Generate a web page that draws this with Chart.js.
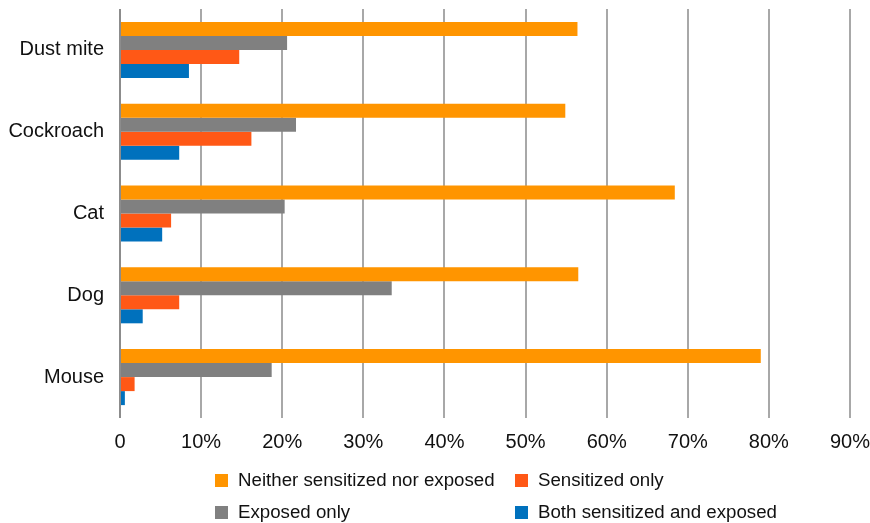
<!DOCTYPE html>
<html>
<head>
<meta charset="utf-8">
<script src="https://cdn.jsdelivr.net/npm/chart.js@4/dist/chart.umd.min.js"></script>
<style>
  body { margin: 0; background: #fff; font-family: "Liberation Sans", Arial, sans-serif; }
  #wrap { position: relative; width: 870px; height: 523px; }
  #chart { position: absolute; left: 0; top: 0; }
  .leg { position: absolute; font-size: 18.7px; color: #111; white-space: nowrap; line-height: 20px; }
  .leg span.box { position: absolute; width: 13px; height: 13px; left: 0; top: 4px; }
  .leg span.txt { position: absolute; left: 23px; top: 0; }
</style>
</head>
<body>
<div id="wrap">
  <canvas id="chart" width="870" height="471"></canvas>
  <div id="legend"></div>
</div>
<script>
const allergens = ['Dust mite', 'Cockroach', 'Cat', 'Dog', 'Mouse'];
const neither = [56.4, 54.9, 68.4, 56.5, 79.0];
const exposedOnly = [20.6, 21.7, 20.3, 33.5, 18.7];
const sensitizedOnly = [14.7, 16.2, 6.3, 7.3, 1.8];
const both = [8.5, 7.3, 5.2, 2.8, 0.6];
const xTicks = [0, 10, 20, 30, 40, 50, 60, 70, 80, 90];

const datasets = [
    { label: 'Neither sensitized nor exposed', data: neither, backgroundColor: '#ff9500' },
    { label: 'Exposed only', data: exposedOnly, backgroundColor: '#808080' },
    { label: 'Sensitized only', data: sensitizedOnly, backgroundColor: '#ff5816' },
    { label: 'Both sensitized and exposed', data: both, backgroundColor: '#0071bd' }
];

const chart = new Chart(document.getElementById('chart'), {
    type: 'bar',
    data: { labels: allergens, datasets: datasets },
    options: {
        indexAxis: 'y',
        responsive: false,
        animation: false,
        categoryPercentage: 0.685,
        barPercentage: 1,
        layout: { padding: { left: 0, right: 20, top: 9, bottom: 5 } },
        plugins: { legend: { display: false }, tooltip: { enabled: false } },
        scales: {
            x: {
                min: 0,
                max: 90,
                afterBuildTicks: axis => { axis.ticks = xTicks.map(v => ({ value: v })); },
                afterFit: axis => { axis.paddingLeft = 0; axis.paddingRight = 0; },
                ticks: {
                    padding: 12,
                    color: '#111',
                    font: { family: 'Liberation Sans', size: 20 },
                    callback: v => v === 0 ? '0' : v + '%'
                },
                grid: {
                    drawTicks: false,
                    lineWidth: 2,
                    color: ctx => ctx.index === 0 ? '#8c8c8c' : '#a8a8a8'
                },
                border: { display: false }
            },
            y: {
                afterFit: axis => { axis.width = 120; axis.paddingTop = 0; axis.paddingBottom = 0; },
                ticks: {
                    padding: 16,
                    color: '#111',
                    font: { family: 'Liberation Sans', size: 20 }
                },
                grid: { display: false, drawTicks: false },
                border: { display: false }
            }
        }
    }
});

// legend in two columns, like the original
const spots = [
    { left: 215, top: 470 },
    { left: 215, top: 502 },
    { left: 515, top: 470 },
    { left: 515, top: 502 }
];
const legend = document.getElementById('legend');
chart.data.datasets.forEach((ds, i) => {
    const item = document.createElement('div');
    item.className = 'leg';
    item.style.left = spots[i].left + 'px';
    item.style.top = spots[i].top + 'px';
    item.innerHTML = '<span class="box" style="background:' + ds.backgroundColor + '"></span><span class="txt">' + ds.label + '</span>';
    legend.appendChild(item);
});
</script>
</body>
</html>
